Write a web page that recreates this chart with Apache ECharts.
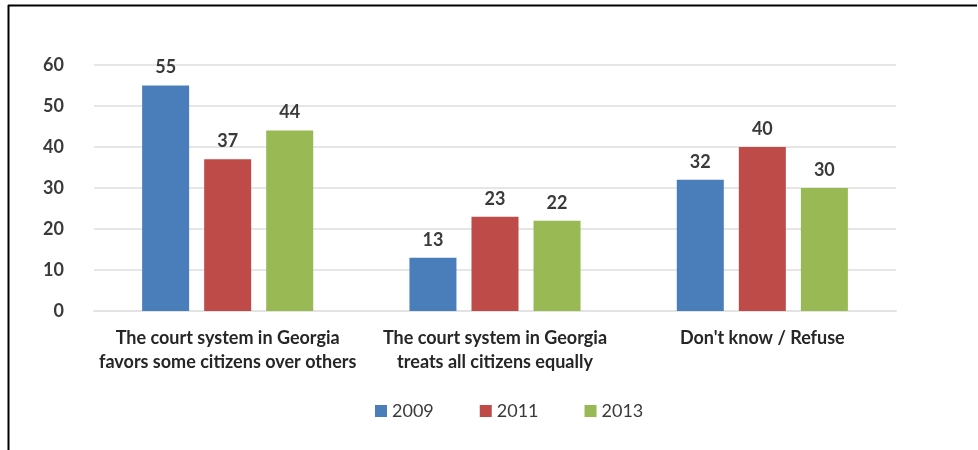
<!DOCTYPE html>
<html><head><meta charset="utf-8">
<script src="https://cdn.jsdelivr.net/npm/echarts@6/dist/echarts.min.js"></script>
<style>html,body{margin:0;padding:0;background:#fff}#c{width:978px;height:450px}</style>
</head><body><div id="c"></div>
<script>
const categories = ["The court system in Georgia\nfavors some citizens over others", "The court system in Georgia\ntreats all citizens equally", "Don't know / Refuse"];
const years = ["2009", "2011", "2013"];
const values2009 = [55, 13, 32];
const values2011 = [37, 23, 40];
const values2013 = [44, 22, 30];
const yTicks = [0, 10, 20, 30, 40, 50, 60];
const colors = ["#4a7ebb", "#be4b48", "#98b954"];
const font = "Lato";
const chart = echarts.init(document.getElementById('c'));
const mk = (name, data, color) => ({
  name, type: 'bar', data, barWidth: 47, barGap: '32%',
  itemStyle: {color},
  label: {show: true, position: 'top', distance: 9, color: '#3a3a3a', fontSize: 18, fontFamily: font, fontWeight: 'bold'}
});
chart.setOption({
  animation: false,
  backgroundColor: '#fff',
  color: colors,
  grid: {left: 94, right: 82, top: 65, bottom: 139},
  xAxis: {type: 'category', data: categories,
    axisLine: {show: true, lineStyle: {color: '#e3e3e3', width: 2}}, axisTick: {show: false},
    axisLabel: {color: '#262626', fontSize: 18, fontFamily: font, fontWeight: 'bold', lineHeight: 24, margin: 15, interval: 0}},
  yAxis: {type: 'value', min: yTicks[0], max: yTicks[yTicks.length - 1], interval: 10,
    axisLine: {show: false}, axisTick: {show: false},
    splitLine: {lineStyle: {color: '#e6e6e6', width: 2}},
    axisLabel: {color: '#3a3a3a', fontSize: 18, fontFamily: font, fontWeight: 'bold', margin: 30}},
  legend: {bottom: 25, left: 370, itemWidth: 12, itemHeight: 12, itemGap: 46,
    icon: 'rect', textStyle: {fontSize: 18, color: '#3a3a3a', fontFamily: font}},
  series: [mk(years[0], values2009, colors[0]), mk(years[1], values2011, colors[1]), mk(years[2], values2013, colors[2])],
  graphic: [
    {type: 'line', shape: {x1: 8, y1: 5.5, x2: 977, y2: 5.5}, style: {stroke: '#000', lineWidth: 2}},
    {type: 'line', shape: {x1: 8.5, y1: 5, x2: 8.5, y2: 450}, style: {stroke: '#000', lineWidth: 2}}
  ]
});
</script></body></html>
